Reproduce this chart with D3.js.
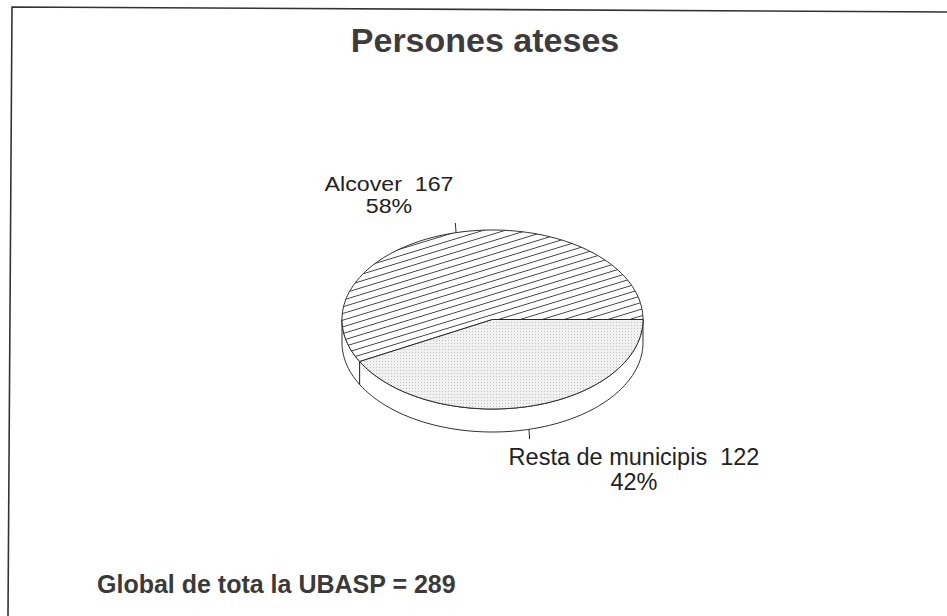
<!DOCTYPE html>
<html>
<head>
<meta charset="utf-8">
<script src="https://cdn.jsdelivr.net/npm/d3@7/dist/d3.min.js"></script>
<style>
  html, body { margin: 0; padding: 0; background: #fff; }
  svg { display: block; }
  text { font-family: "Liberation Sans", Arial, Helvetica, sans-serif; }
</style>
</head>
<body>
<svg id="chart" width="947" height="616"></svg>
<script>
// ---- data ----
const title = "Persones ateses";
const categories = ["Alcover", "Resta de municipis"];
const values = [167, 122];
const percentLabels = ["58%", "42%"];
const totalLabel = "Global de tota la UBASP = 289";

// ---- layout ----
const W = 947, H = 616;
const cx = 492.5, cy = 319.5, rx = 150.5, ry = 89.5, depth = 23;
const stroke = "#2a2a2a";

const svg = d3.select("#chart");
const defs = svg.append("defs");

// hatch pattern for Alcover
const hatch = defs.append("pattern")
  .attr("id", "hatch")
  .attr("patternUnits", "userSpaceOnUse")
  .attr("width", 40).attr("height", 6.4)
  .attr("patternTransform", "rotate(-17)");
hatch.append("rect").attr("width", 40).attr("height", 6.4).attr("fill", "#fff");
hatch.append("line").attr("x1", 0).attr("x2", 40).attr("y1", 3.2).attr("y2", 3.2)
  .attr("stroke", "#333").attr("stroke-width", 0.9);

// stipple pattern for Resta
const dots = defs.append("pattern")
  .attr("id", "dots")
  .attr("patternUnits", "userSpaceOnUse")
  .attr("width", 3).attr("height", 3);
dots.append("rect").attr("width", 3).attr("height", 3).attr("fill", "#f1f1f1");
dots.append("rect").attr("x", 1).attr("y", 1).attr("width", 1).attr("height", 1).attr("fill", "#c4c4c4");

const fills = ["url(#hatch)", "url(#dots)"];

// frame
svg.append("path")
  .attr("d", d3.line()([[W, 12], [12, 7], [8, H]]))
  .attr("fill", "none").attr("stroke", "#333").attr("stroke-width", 1.6);

// title
svg.append("text")
  .attr("x", 485).attr("y", 52)
  .attr("text-anchor", "middle")
  .attr("font-size", 34).attr("font-weight", "bold")
  .attr("fill", "#3c3c3c")
  .text(title);

// pie angles (d3 convention: 0 at 12 o'clock, clockwise)
const total = d3.sum(values);
const start = Math.PI / 2 - 2 * Math.PI * values[0] / total;
const pie = d3.pie().sort(null).startAngle(start).endAngle(start + 2 * Math.PI);
const arcs = pie(values);

// elliptical projection of an angle
const px = a => cx + rx * Math.sin(a);
const py = (a, dz = 0) => cy - ry * Math.cos(a) + dz;

function arcPoints(a0, a1, dz) {
  const n = Math.max(2, Math.ceil(Math.abs(a1 - a0) / 0.02));
  return d3.range(n + 1).map(i => {
    const a = a0 + (a1 - a0) * i / n;
    return [px(a), py(a, dz)];
  });
}

// side walls: visible only for the front half
const walls = svg.append("g");
arcs.forEach((d, i) => {
  for (let k = -1; k <= 1; k++) {
    const lo = Math.PI / 2 + 2 * Math.PI * k, hi = 3 * Math.PI / 2 + 2 * Math.PI * k;
    const a0 = Math.max(d.startAngle, lo), a1 = Math.min(d.endAngle, hi);
    if (a1 > a0) {
      const top = arcPoints(a0, a1, 0);
      const bot = arcPoints(a1, a0, depth);
      walls.append("path")
        .attr("d", d3.line()(top.concat(bot)) + "Z")
        .attr("fill", "#fff")
        .attr("stroke", stroke).attr("stroke-width", 1)
        .attr("stroke-linejoin", "round");
    }
  }
});

// top faces
const tops = svg.append("g");
arcs.forEach((d, i) => {
  const pts = [[cx, cy]].concat(arcPoints(d.startAngle, d.endAngle, 0));
  tops.append("path")
    .attr("d", d3.line()(pts) + "Z")
    .attr("fill", fills[i])
    .attr("stroke", stroke).attr("stroke-width", 1)
    .attr("stroke-linejoin", "round");
});

// leader ticks and labels
const labelPos = [
  { x: 389, y1: 191, y2: 213, size: 20, sx: 1.16 },
  { x: 634, y1: 465, y2: 490, size: 23.5, sx: 1.0 }
];
arcs.forEach((d, i) => {
  const m = (d.startAngle + d.endAngle) / 2;
  const front = Math.cos(m) < 0;
  const dz = front ? depth : 0;
  const x0 = px(m), y0 = py(m, dz);
  const ux = Math.sin(m), uy = -Math.cos(m);
  const len = 10;
  svg.append("line")
    .attr("x1", x0).attr("y1", y0)
    .attr("x2", x0 + ux * len * 0.3).attr("y2", y0 + uy * len)
    .attr("stroke", stroke).attr("stroke-width", 1);

  const lp = labelPos[i];
  svg.append("text")
    .attr("transform", `translate(${lp.x},${lp.y1}) scale(${lp.sx},1)`)
    .attr("text-anchor", "middle")
    .attr("font-size", lp.size).attr("fill", "#222")
    .attr("xml:space", "preserve")
    .text(categories[i] + "  " + values[i]);
  svg.append("text")
    .attr("transform", `translate(${lp.x},${lp.y2}) scale(${lp.sx},1)`)
    .attr("text-anchor", "middle")
    .attr("font-size", lp.size).attr("fill", "#222")
    .text(percentLabels[i]);
});

// footer total
svg.append("text")
  .attr("x", 97).attr("y", 593)
  .attr("font-size", 25).attr("font-weight", "bold")
  .attr("fill", "#3a3a3a")
  .text(totalLabel);
</script>
</body>
</html>
